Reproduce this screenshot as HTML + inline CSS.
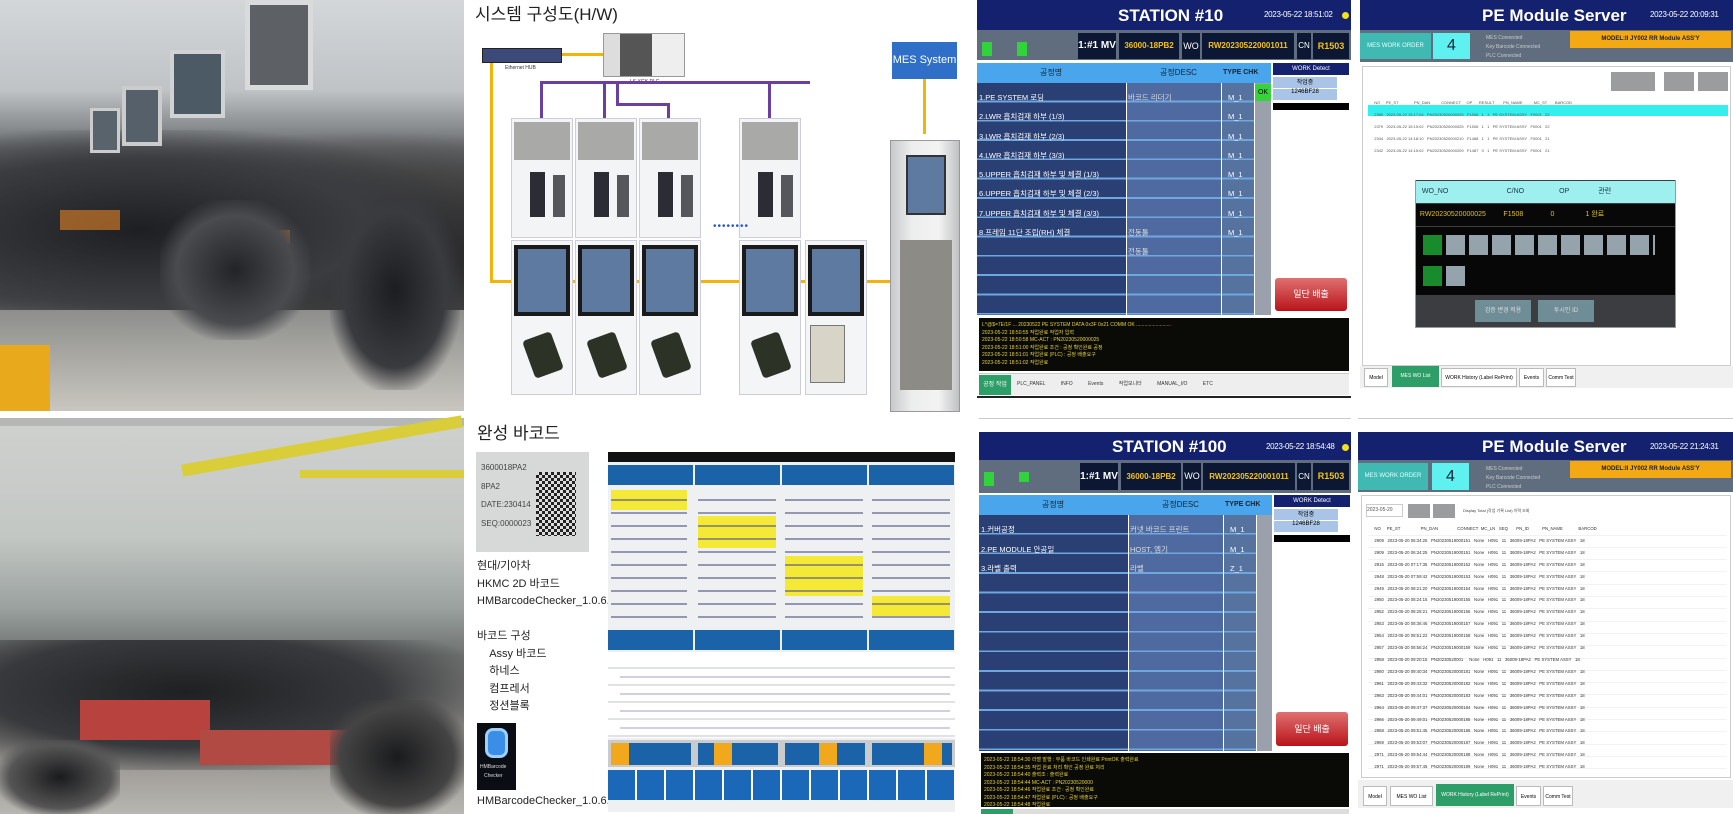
<!DOCTYPE html>
<html><head><meta charset="utf-8"><style>
*{margin:0;padding:0;box-sizing:border-box}
body{width:1733px;height:814px;position:relative;background:#fff;overflow:hidden;font-family:"Liberation Sans","Noto Sans CJK KR",sans-serif}
div{position:absolute}
.t{white-space:nowrap;line-height:1}
.nav{background:#13216e;color:#fff}
.yl{color:#f4c21a}
.ib{background:#0c1733;overflow:hidden;white-space:nowrap;text-align:center;font-weight:bold}
</style></head><body>

<!-- PHOTO 1 -->
<div style="left:0;top:0;width:464px;height:411px;background:linear-gradient(180deg,#d4d7da 0%,#bfc3c6 22%,#6a6d70 36%,#3c3e42 55%,#4a4b4e 72%,#9a9996 85%,#b5b3ae 100%)"></div>
<div style="left:0;top:130px;width:464px;height:200px;background:radial-gradient(ellipse at 30% 50%,#1e1f22 0%,#3a3c40 50%,transparent 75%),radial-gradient(ellipse at 80% 60%,#1a1a1c 0%,#444 45%,transparent 70%)"></div>
<div style="left:245px;top:0;width:68px;height:90px;background:#5d6166;border:5px solid #d8dadc"></div>
<div style="left:170px;top:50px;width:55px;height:68px;background:#4c5a66;border:4px solid #d0d2d4"></div>
<div style="left:122px;top:86px;width:40px;height:60px;background:#55606a;border:4px solid #ccc"></div>
<div style="left:90px;top:108px;width:30px;height:45px;background:#59636c;border:3px solid #ccc"></div>
<div style="left:0;top:310px;width:464px;height:101px;background:linear-gradient(180deg,#8d8e8c,#c9c6bf)"></div>
<div style="left:0;top:345px;width:50px;height:66px;background:#e8a91c"></div>
<div style="left:60px;top:210px;width:60px;height:20px;background:#c8762a;opacity:.7"></div>
<div style="left:250px;top:230px;width:40px;height:14px;background:#c8762a;opacity:.7"></div>
<div style="left:330px;top:190px;width:130px;height:200px;background:radial-gradient(ellipse,#1c1d20 0%,#3a3b3f 55%,transparent 75%)"></div>
<div style="left:160px;top:200px;width:150px;height:140px;background:radial-gradient(ellipse,#232427 0%,#4a4b4e 55%,transparent 75%)"></div>

<!-- PHOTO 2 -->
<div style="left:0;top:418px;width:464px;height:396px;background:linear-gradient(180deg,#cfd1cf 0%,#c3c7c4 30%,#9aa19f 48%,#6d716f 60%,#8d8a86 80%,#b8b6b1 100%)"></div>
<div style="left:0;top:418px;width:464px;height:8px;background:#b4b7b6"></div>
<div style="left:180px;top:440px;width:284px;height:12px;background:#d9cd3a;transform:rotate(-10deg)"></div>
<div style="left:300px;top:470px;width:164px;height:8px;background:#d9cd3a"></div>
<div style="left:0;top:640px;width:464px;height:130px;background:radial-gradient(ellipse at 40% 40%,#1f2022 0%,#38393c 50%,transparent 80%)"></div>
<div style="left:80px;top:700px;width:130px;height:40px;background:#b8433e"></div>
<div style="left:200px;top:730px;width:150px;height:35px;background:#b24a44"></div>
<div style="left:330px;top:700px;width:134px;height:114px;background:radial-gradient(ellipse,#1a1b1d 0%,#444 60%,transparent 80%)"></div>
<div style="left:0;top:740px;width:120px;height:74px;background:radial-gradient(ellipse,#1a1b1d 0%,#555 60%,transparent 80%)"></div>

<!-- DIAGRAM -->
<div class="t" style="left:475px;top:6px;font-size:17px;color:#222">시스템 구성도(H/W)</div>
<div style="left:482px;top:48px;width:80px;height:15px;background:#3b4a78;border:1px solid #222"></div>
<div class="t" style="left:505px;top:66px;font-size:5px;color:#333">Ethernet HUB</div>
<div style="left:603px;top:33px;width:82px;height:44px;background:linear-gradient(90deg,#ddd 0 20%,#555 20% 60%,#eee 60%);border:1px solid #999"></div>
<div class="t" style="left:630px;top:80px;font-size:5px;color:#333">LS XGK PLC</div>
<div style="left:892px;top:42px;width:65px;height:37px;background:#2f6fc8;color:#fff;font-size:11px;text-align:center;line-height:37px">MES System</div>
<div style="left:562px;top:53px;width:41px;height:3px;background:#f2b40a"></div>
<div style="left:490px;top:63px;width:3px;height:220px;background:#f2b40a"></div>
<div style="left:490px;top:280px;width:400px;height:3px;background:#f2b40a"></div>
<div style="left:923px;top:79px;width:3px;height:55px;background:#f2b40a"></div>
<div style="left:540px;top:81px;width:270px;height:3px;background:#6b3fa0"></div>
<div style="left:540px;top:81px;width:3px;height:37px;background:#6b3fa0"></div>
<div style="left:603px;top:81px;width:3px;height:37px;background:#6b3fa0"></div>
<div style="left:616px;top:81px;width:3px;height:24px;background:#6b3fa0"></div>
<div style="left:616px;top:103px;width:53px;height:3px;background:#6b3fa0"></div>
<div style="left:667px;top:103px;width:3px;height:15px;background:#6b3fa0"></div>
<div style="left:768px;top:81px;width:3px;height:37px;background:#6b3fa0"></div>
<div style="left:511px;top:118px;width:62px;height:120px;background:#f2f4f6;border:1px solid #ccd"></div>
<div style="left:575px;top:118px;width:62px;height:120px;background:#f2f4f6;border:1px solid #ccd"></div>
<div style="left:639px;top:118px;width:62px;height:120px;background:#f2f4f6;border:1px solid #ccd"></div>
<div style="left:739px;top:118px;width:62px;height:120px;background:#f2f4f6;border:1px solid #ccd"></div>
<div style="left:514px;top:122px;width:56px;height:38px;background:#a9aaa8"></div>
<div style="left:578px;top:122px;width:56px;height:38px;background:#a9aaa8"></div>
<div style="left:642px;top:122px;width:56px;height:38px;background:#a9aaa8"></div>
<div style="left:742px;top:122px;width:56px;height:38px;background:#a9aaa8"></div>
<div style="left:530px;top:172px;width:15px;height:45px;background:#2b2c34"></div><div style="left:553px;top:175px;width:12px;height:42px;background:#55575c"></div>
<div style="left:594px;top:172px;width:15px;height:45px;background:#2b2c34"></div><div style="left:617px;top:175px;width:12px;height:42px;background:#55575c"></div>
<div style="left:658px;top:172px;width:15px;height:45px;background:#2b2c34"></div><div style="left:681px;top:175px;width:12px;height:42px;background:#55575c"></div>
<div style="left:758px;top:172px;width:15px;height:45px;background:#2b2c34"></div><div style="left:781px;top:175px;width:12px;height:42px;background:#55575c"></div>
<div class="t" style="left:713px;top:222px;font-size:10px;color:#2a5ad0;letter-spacing:1px">••••••••</div>
<div style="left:511px;top:240px;width:62px;height:155px;background:#f4f5f7;border:1px solid #ccd"></div>
<div style="left:575px;top:240px;width:62px;height:155px;background:#f4f5f7;border:1px solid #ccd"></div>
<div style="left:639px;top:240px;width:62px;height:155px;background:#f4f5f7;border:1px solid #ccd"></div>
<div style="left:739px;top:240px;width:62px;height:155px;background:#f4f5f7;border:1px solid #ccd"></div>
<div style="left:805px;top:240px;width:62px;height:155px;background:#f4f5f7;border:1px solid #ccd"></div>
<div style="left:514px;top:245px;width:56px;height:71px;background:#5e7aa0;border:4px solid #1a1a1a"></div>
<div style="left:578px;top:245px;width:56px;height:71px;background:#5e7aa0;border:4px solid #1a1a1a"></div>
<div style="left:642px;top:245px;width:56px;height:71px;background:#5e7aa0;border:4px solid #1a1a1a"></div>
<div style="left:742px;top:245px;width:56px;height:71px;background:#5e7aa0;border:4px solid #1a1a1a"></div>
<div style="left:808px;top:245px;width:56px;height:71px;background:#5e7aa0;border:4px solid #1a1a1a"></div>
<div style="left:528px;top:335px;width:30px;height:40px;background:#2c3226;border-radius:4px;transform:rotate(-20deg)"></div>
<div style="left:592px;top:335px;width:30px;height:40px;background:#2c3226;border-radius:4px;transform:rotate(-20deg)"></div>
<div style="left:656px;top:335px;width:30px;height:40px;background:#2c3226;border-radius:4px;transform:rotate(-20deg)"></div>
<div style="left:756px;top:335px;width:30px;height:40px;background:#2c3226;border-radius:4px;transform:rotate(-20deg)"></div>
<div style="left:810px;top:325px;width:35px;height:58px;background:#d8d4c8;border:1px solid #777"></div>
<div style="left:890px;top:140px;width:70px;height:272px;background:linear-gradient(90deg,#c8c9cb,#eceded 30%,#f3f3f3 70%,#c0c1c3);border:1px solid #999"></div>
<div style="left:906px;top:155px;width:40px;height:60px;background:#5e7aa0;border:2px solid #333"></div>
<div style="left:900px;top:240px;width:52px;height:150px;background:#8d8b86"></div>

<!-- BARCODE SECTION -->
<div class="t" style="left:477px;top:425px;font-size:17px;color:#222">완성 바코드</div>
<div style="left:476px;top:452px;width:113px;height:100px;background:#d7d8d8"></div>
<div class="t" style="left:481px;top:459px;font-size:8px;color:#444;line-height:18.5px;white-space:pre">3600018PA2
8PA2
DATE:230414
SEQ:0000023</div>
<div style="left:536px;top:472px;width:40px;height:64px;background:repeating-conic-gradient(#222 0 25%,#ddd 0 50%) 0 0/6px 6px"></div>
<div class="t" style="left:477px;top:558px;font-size:11px;color:#222;line-height:17.5px;white-space:pre">현대/기아차
HKMC 2D 바코드
HMBarcodeChecker_1.0.6.apk</div>
<div class="t" style="left:477px;top:628px;font-size:11px;color:#222;line-height:17.5px;white-space:pre">바코드 구성
    Assy 바코드
    하네스
    컴프레서
    정션블록</div>
<div style="left:477px;top:723px;width:39px;height:67px;background:#0a0d14"></div>
<div style="left:485px;top:728px;width:23px;height:30px;background:#3a8ee8;border-radius:8px;border:3px solid #9dd0ff"></div>
<div class="t" style="left:480px;top:765px;font-size:5px;color:#ddd">HMBarcode</div>
<div class="t" style="left:484px;top:774px;font-size:5px;color:#ddd">Checker</div>
<div class="t" style="left:477px;top:796px;font-size:11px;color:#222">HMBarcodeChecker_1.0.6.apk</div>

<div style="left:608px;top:452px;width:347px;height:360px;background:#eef0f2"></div>
<div style="left:608px;top:452px;width:347px;height:10px;background:#111"></div>
<div style="left:608px;top:465px;width:85px;height:20px;background:#1b63a8"></div>
<div style="left:695px;top:465px;width:85px;height:20px;background:#1b63a8"></div>
<div style="left:782px;top:465px;width:85px;height:20px;background:#1b63a8"></div>
<div style="left:869px;top:465px;width:85px;height:20px;background:#1b63a8"></div>
<div style="left:611px;top:490px;width:76px;height:20px;background:#f3e936"></div>
<div style="left:698px;top:516px;width:78px;height:32px;background:#f3e936"></div>
<div style="left:785px;top:556px;width:78px;height:40px;background:#f3e936"></div>
<div style="left:872px;top:596px;width:78px;height:20px;background:#f3e936"></div>
<div style="left:611px;top:495px;width:76px;height:128px;background:repeating-linear-gradient(180deg,transparent 0 4px,#5a5a88 4px 6px,transparent 6px 13px);opacity:.6"></div>
<div style="left:698px;top:495px;width:78px;height:128px;background:repeating-linear-gradient(180deg,transparent 0 4px,#5a5a88 4px 6px,transparent 6px 13px);opacity:.6"></div>
<div style="left:785px;top:495px;width:78px;height:128px;background:repeating-linear-gradient(180deg,transparent 0 4px,#5a5a88 4px 6px,transparent 6px 13px);opacity:.6"></div>
<div style="left:872px;top:495px;width:78px;height:128px;background:repeating-linear-gradient(180deg,transparent 0 4px,#5a5a88 4px 6px,transparent 6px 13px);opacity:.6"></div>
<div style="left:608px;top:630px;width:85px;height:20px;background:#1b63a8"></div>
<div style="left:695px;top:630px;width:85px;height:20px;background:#1b63a8"></div>
<div style="left:782px;top:630px;width:85px;height:20px;background:#1b63a8"></div>
<div style="left:869px;top:630px;width:85px;height:20px;background:#1b63a8"></div>
<div style="left:608px;top:652px;width:347px;height:86px;background:repeating-linear-gradient(180deg,#fff 0 15px,#e0e2e5 15px 17px)"></div>
<div style="left:620px;top:670px;width:330px;height:60px;background:repeating-linear-gradient(180deg,transparent 0 6px,#7a7aa8 6px 8px,transparent 8px 17px);opacity:.35"></div>
<div style="left:608px;top:740px;width:347px;height:27px;background:#c9cbcd"></div>
<div style="left:611px;top:743px;width:80px;height:22px;background:#1b63a8"></div>
<div style="left:698px;top:743px;width:80px;height:22px;background:#1b63a8"></div>
<div style="left:785px;top:743px;width:80px;height:22px;background:#1b63a8"></div>
<div style="left:872px;top:743px;width:80px;height:22px;background:#1b63a8"></div>
<div style="left:611px;top:743px;width:18px;height:22px;background:#f2a81c"></div>
<div style="left:714px;top:743px;width:18px;height:22px;background:#f2a81c"></div>
<div style="left:819px;top:743px;width:18px;height:22px;background:#f2a81c"></div>
<div style="left:924px;top:743px;width:18px;height:22px;background:#f2a81c"></div>
<div style="left:608px;top:770px;width:347px;height:30px;background:repeating-linear-gradient(90deg,#1b68b8 0 27px,#fff 27px 29px)"></div>

<!-- STATION #10 -->
<div style="left:977px;top:0;width:374px;height:398px;background:#fff"></div>
<div class="nav" style="left:977px;top:0;width:374px;height:30px"></div>
<div class="t" style="left:1118px;top:7px;font-size:17px;font-weight:bold;color:#fff">STATION #10</div>
<div class="t" style="left:1264px;top:11px;font-size:8px;color:#fff;letter-spacing:-.3px">2023-05-22 18:51:02</div>
<div style="left:1342px;top:12px;width:7px;height:7px;border-radius:50%;background:#f5e11a"></div>
<div style="left:977px;top:30px;width:374px;height:30px;background:#5f6d7e"></div>
<div style="left:982px;top:42px;width:10px;height:14px;background:#30d33a"></div><div style="left:1017px;top:42px;width:10px;height:14px;background:#30d33a"></div>
<div class="ib" style="left:1078px;top:33px;width:38px;height:26px;color:#fff;font-size:10px;line-height:26px">1:#1 MV</div>
<div class="ib yl" style="left:1119px;top:33px;width:60px;height:26px;font-size:8px;line-height:26px">36000-18PB2</div>
<div class="ib" style="left:1182px;top:33px;width:18px;height:26px;color:#fff;font-size:9px;line-height:26px;font-weight:normal">WO</div>
<div class="ib yl" style="left:1202px;top:33px;width:92px;height:26px;font-size:8px;line-height:26px">RW202305220001011</div>
<div class="ib" style="left:1297px;top:33px;width:14px;height:26px;color:#fff;font-size:8px;line-height:26px;font-weight:normal">CN</div>
<div class="ib yl" style="left:1313px;top:33px;width:36px;height:26px;font-size:9px;line-height:26px">R1503</div>
<div style="left:977px;top:63px;width:294px;height:20px;background:#4aa6ec"></div>
<div class="t" style="left:1040px;top:69px;font-size:8px;color:#123">공정명</div>
<div class="t" style="left:1160px;top:69px;font-size:8px;color:#123">공정DESC</div>
<div class="t" style="left:1223px;top:69px;font-size:7px;font-weight:bold;color:#123">TYPE CHK</div>
<div style="left:977px;top:83px;width:149px;height:232px;background:repeating-linear-gradient(180deg,#2a3f73 0 17.5px,#6fa8e0 17.5px 19.3px)"></div>
<div style="left:1127px;top:83px;width:94px;height:232px;background:repeating-linear-gradient(180deg,#4f6aa0 0 17.5px,#6fa8e0 17.5px 19.3px)"></div>
<div style="left:1222px;top:83px;width:32px;height:232px;background:repeating-linear-gradient(180deg,#56729f 0 17.5px,#6fa8e0 17.5px 19.3px)"></div>
<div style="left:1255px;top:83px;width:16px;height:232px;background:#9aa1ad"></div>
<div style="left:1255px;top:84px;width:16px;height:17px;background:#36d43a;font-size:7px;color:#000;text-align:center;line-height:17px">OK</div>
<div class="t" style="left:979px;top:88px;font-size:7.5px;color:#fff;line-height:19.3px;white-space:pre">1.PE SYSTEM 로딩
2.LWR 흡치검재 하부 (1/3)
3.LWR 흡치검재 하부 (2/3)
4.LWR 흡치검재 하부 (3/3)
5.UPPER 흡치검재 하부 및 체결 (1/3)
6.UPPER 흡치검재 하부 및 체결 (2/3)
7.UPPER 흡치검재 하부 및 체결 (3/3)
8.프레임 11단 조립(RH) 체결</div>
<div class="t" style="left:1128px;top:88px;font-size:7.5px;color:#ddd;line-height:19.3px;white-space:pre">바코드 리더기






전동툴
전동툴</div>
<div class="t" style="left:1228px;top:88px;font-size:7.5px;color:#fff;line-height:19.3px;white-space:pre">M_1
M_1
M_1
M_1
M_1
M_1
M_1
M_1</div>
<div style="left:1273px;top:63px;width:76px;height:12px;background:#13216e;color:#fff;font-size:6px;text-align:center;line-height:12px">WORK Detect</div>
<div style="left:1273px;top:77px;width:64px;height:11px;background:#a9c4e6;font-size:6px;text-align:center">작업중</div>
<div style="left:1273px;top:89px;width:64px;height:11px;background:#a9c4e6;font-size:6px;text-align:center">1246BF28</div>
<div style="left:1273px;top:103px;width:76px;height:7px;background:#000"></div>
<div style="left:1275px;top:278px;width:72px;height:33px;background:linear-gradient(180deg,#e07070,#b8141a);color:#fff;font-size:9px;text-align:center;line-height:33px;border-radius:3px">일단 배출</div>
<div style="left:979px;top:318px;width:370px;height:53px;background:#0a0a06"></div>
<div class="t" style="left:982px;top:322px;font-size:5px;color:#e7d23a;line-height:7.5px;white-space:pre">L^@$=7E/1F ... 20230522 PE SYSTEM DATA 0x3F 0x21 COMM OK .........................
2023-05-22 18:50:55 작업완료 작업자 입력
2023-05-22 18:50:58 MC-ACT : PN20230520000025
2023-05-22 18:51:00 작업완료 조건 : 공정 확인완료 공정
2023-05-22 18:51:01 작업완료 (PLC) : 공정 배출요구
2023-05-22 18:51:02 작업완료</div>
<div style="left:979px;top:373px;width:370px;height:22px;background:#eee;border-top:1px solid #ccc"></div>
<div style="left:979px;top:375px;width:32px;height:20px;background:#2e9e68;color:#fff;font-size:6px;text-align:center;line-height:20px">공정 작업</div>
<div class="t" style="left:1017px;top:382px;font-size:5px;color:#333;word-spacing:14px">PLC_PANEL INFO Events 작업모니터 MANUAL_I/O ETC</div>
<div style="left:977px;top:396px;width:374px;height:2px;background:#222"></div>

<!-- PE MODULE SERVER 1 -->
<div class="nav" style="left:1360px;top:0;width:373px;height:30px"></div>
<div class="t" style="left:1482px;top:7px;font-size:17px;font-weight:bold;color:#fff">PE Module Server</div>
<div class="t" style="left:1650px;top:11px;font-size:8px;color:#fff;letter-spacing:-.3px">2023-05-22 20:09:31</div>
<div style="left:1360px;top:30px;width:373px;height:32px;background:#5f6d7e"></div>
<div style="left:1360px;top:33px;width:71px;height:26px;background:#3fb9b2;color:#e6ffff;font-size:6px;text-align:center;line-height:26px">MES WORK ORDER</div>
<div style="left:1433px;top:33px;width:37px;height:26px;background:#5ff0f0;color:#123;font-size:16px;text-align:center;line-height:26px">4</div>
<div class="t" style="left:1486px;top:34px;font-size:5px;color:#ccc;line-height:9px;white-space:pre">MES Connected
Key Barcode Connected
PLC Connected</div>
<div style="left:1570px;top:31px;width:161px;height:17px;background:#f2a914;font-size:6px;font-weight:bold;color:#222;text-align:center;line-height:17px">MODEL:II JY002 RR Module ASS'Y</div>
<div style="left:1362px;top:66px;width:369px;height:300px;background:#fff;border:1px solid #ccc"></div>
<div style="left:1611px;top:72px;width:44px;height:19px;background:#9b9c9d"></div>
<div style="left:1664px;top:72px;width:30px;height:19px;background:#9b9c9d"></div>
<div style="left:1698px;top:72px;width:30px;height:19px;background:#9b9c9d"></div>
<div style="left:1368px;top:105px;width:360px;height:11px;background:#33f0ef"></div>
<div class="t" style="left:1372px;top:97px;font-size:4px;color:#555;line-height:12px;white-space:pre">  NO     PE_ST              PN_DAN          CONNECT     OP      RESULT        PN_NAME          MC_ST       BARCOD
  2380   2023-05-22 15:17:04   PN20230520000025   F1506   1   1   PE SYSTEM ASSY   F0001   22
  2379   2023-05-22 15:15:02   PN20230520000025   F1506   1   1   PE SYSTEM ASSY   F0001   22
  2344   2023-05-22 14:18:10   PN20230520000210   F1488   1   1   PE SYSTEM ASSY   F0001   21
  2342   2023-05-22 14:15:02   PN20230520000209   F1487   0   1   PE SYSTEM ASSY   F0001   21</div>
<div style="left:1415px;top:170px;width:261px;height:158px;background:#3b3d40;border:1px solid #999"></div>
<div style="left:1415px;top:170px;width:261px;height:10px;background:#fff"></div>
<div style="left:1416px;top:181px;width:259px;height:22px;background:#9ef0ee;font-size:7px;color:#234;line-height:22px;white-space:pre">   WO_NO                              C/NO                  OP               관련</div>
<div style="left:1416px;top:204px;width:259px;height:22px;background:#080808;color:#e0c020;font-size:7px;line-height:22px;white-space:pre">  RW20230520000025         F1508              0                1 완료</div>
<div style="left:1416px;top:227px;width:259px;height:68px;background:#070707"></div>
<div style="left:1423px;top:235px;width:232px;height:20px;background:repeating-linear-gradient(90deg,#95a3ad 0 19px,transparent 19px 23px)"></div>
<div style="left:1423px;top:235px;width:19px;height:20px;background:#188c2c"></div>
<div style="left:1423px;top:266px;width:19px;height:20px;background:#188c2c"></div>
<div style="left:1446px;top:266px;width:19px;height:20px;background:#95a3ad"></div>
<div style="left:1475px;top:300px;width:56px;height:22px;background:#6f8d96;color:#ddd;font-size:6px;text-align:center;line-height:22px">검증 변경 적용</div>
<div style="left:1538px;top:300px;width:56px;height:22px;background:#6f8d96;color:#ddd;font-size:6px;text-align:center;line-height:22px">투시인 ID</div>
<div style="left:1360px;top:366px;width:373px;height:22px;background:#f0f0f0"></div>
<div style="left:1364px;top:368px;width:24px;height:19px;background:#fff;border:1px solid #bbb;font-size:5px;text-align:center;line-height:19px">Model</div>
<div style="left:1392px;top:366px;width:47px;height:21px;background:#2e9e68;color:#fff;font-size:5px;text-align:center;line-height:21px">MES WO List</div>
<div style="left:1441px;top:368px;width:76px;height:19px;background:#fff;border:1px solid #bbb;font-size:5px;text-align:center;line-height:19px">WORK History (Label RePrint)</div>
<div style="left:1519px;top:368px;width:25px;height:19px;background:#fff;border:1px solid #bbb;font-size:5px;text-align:center;line-height:19px">Events</div>
<div style="left:1546px;top:368px;width:30px;height:19px;background:#fff;border:1px solid #bbb;font-size:5px;text-align:center;line-height:19px">Comm Test</div>

<!-- STATION #100 -->
<div style="left:979px;top:418px;width:372px;height:14px;background:#fff;border-top:1px solid #ccc"></div>
<div class="nav" style="left:979px;top:432px;width:372px;height:28px"></div>
<div class="t" style="left:1112px;top:438px;font-size:17px;font-weight:bold;color:#fff">STATION #100</div>
<div class="t" style="left:1266px;top:443px;font-size:8px;color:#fff;letter-spacing:-.3px">2023-05-22 18:54:48</div>
<div style="left:1342px;top:444px;width:7px;height:7px;border-radius:50%;background:#f5e11a"></div>
<div style="left:979px;top:460px;width:372px;height:33px;background:#5f6d7e"></div>
<div style="left:984px;top:472px;width:10px;height:14px;background:#30d33a"></div><div style="left:1019px;top:472px;width:10px;height:10px;background:#30d33a"></div>
<div class="ib" style="left:1080px;top:463px;width:38px;height:27px;color:#fff;font-size:10px;line-height:27px">1:#1 MV</div>
<div class="ib yl" style="left:1121px;top:463px;width:60px;height:27px;font-size:8px;line-height:27px">36000-18PB2</div>
<div class="ib" style="left:1183px;top:463px;width:18px;height:27px;color:#fff;font-size:9px;line-height:27px;font-weight:normal">WO</div>
<div class="ib yl" style="left:1203px;top:463px;width:92px;height:27px;font-size:8px;line-height:27px">RW202305220001011</div>
<div class="ib" style="left:1297px;top:463px;width:14px;height:27px;color:#fff;font-size:8px;line-height:27px;font-weight:normal">CN</div>
<div class="ib yl" style="left:1313px;top:463px;width:36px;height:27px;font-size:9px;line-height:27px">R1503</div>
<div style="left:979px;top:495px;width:293px;height:20px;background:#4aa6ec"></div>
<div class="t" style="left:1042px;top:501px;font-size:8px;color:#123">공정명</div>
<div class="t" style="left:1162px;top:501px;font-size:8px;color:#123">공정DESC</div>
<div class="t" style="left:1225px;top:501px;font-size:7px;font-weight:bold;color:#123">TYPE CHK</div>
<div style="left:979px;top:515px;width:149px;height:236px;background:repeating-linear-gradient(180deg,#2a3f73 0 17.8px,#6fa8e0 17.8px 19.6px)"></div>
<div style="left:1129px;top:515px;width:94px;height:236px;background:repeating-linear-gradient(180deg,#4f6aa0 0 17.8px,#6fa8e0 17.8px 19.6px)"></div>
<div style="left:1224px;top:515px;width:32px;height:236px;background:repeating-linear-gradient(180deg,#56729f 0 17.8px,#6fa8e0 17.8px 19.6px)"></div>
<div style="left:1257px;top:515px;width:15px;height:236px;background:#9aa1ad"></div>
<div class="t" style="left:981px;top:520px;font-size:7.5px;color:#fff;line-height:19.6px;white-space:pre">1.커버공정
2.PE MODULE 안공일
3.라벨 출력</div>
<div class="t" style="left:1130px;top:520px;font-size:7.5px;color:#ddd;line-height:19.6px;white-space:pre">커넷 바코드 프린트
HOST, 엠기
라벨</div>
<div class="t" style="left:1230px;top:520px;font-size:7.5px;color:#fff;line-height:19.6px;white-space:pre">M_1
M_1
Z_1</div>
<div style="left:1274px;top:495px;width:76px;height:12px;background:#13216e;color:#fff;font-size:6px;text-align:center;line-height:12px">WORK Detect</div>
<div style="left:1274px;top:509px;width:64px;height:11px;background:#a9c4e6;font-size:6px;text-align:center">작업중</div>
<div style="left:1274px;top:521px;width:64px;height:11px;background:#a9c4e6;font-size:6px;text-align:center">1246BF28</div>
<div style="left:1274px;top:535px;width:76px;height:7px;background:#000"></div>
<div style="left:1276px;top:712px;width:72px;height:34px;background:linear-gradient(180deg,#e07070,#b8141a);color:#fff;font-size:9px;text-align:center;line-height:34px;border-radius:3px">일단 배출</div>
<div style="left:981px;top:753px;width:368px;height:54px;background:#0a0a06"></div>
<div class="t" style="left:984px;top:757px;font-size:5px;color:#e7d23a;line-height:7.5px;white-space:pre">2023-05-22 18:54:30 라벨 발행 : 부품 바코드 인쇄완료 PrintOK 출력완료
2023-05-22 18:54:35 작업 완료 처리 확인 공정 완료 처리
2023-05-22 18:54:40 출력조 : 출력완료
2023-05-22 18:54:44 MC-ACT : PN20230520000
2023-05-22 18:54:46 작업완료 조건 : 공정 확인완료
2023-05-22 18:54:47 작업완료 (PLC) : 공정 배출요구
2023-05-22 18:54:48 작업완료</div>
<div style="left:981px;top:809px;width:368px;height:5px;background:#ddd"></div>
<div style="left:981px;top:809px;width:32px;height:5px;background:#2e9e68"></div>

<!-- PE MODULE SERVER 2 -->
<div style="left:1358px;top:418px;width:375px;height:14px;background:#fff;border-top:1px solid #ccc"></div>
<div class="nav" style="left:1358px;top:432px;width:375px;height:28px"></div>
<div class="t" style="left:1482px;top:438px;font-size:17px;font-weight:bold;color:#fff">PE Module Server</div>
<div class="t" style="left:1650px;top:443px;font-size:8px;color:#fff;letter-spacing:-.3px">2023-05-22 21:24:31</div>
<div style="left:1358px;top:460px;width:375px;height:32px;background:#5f6d7e"></div>
<div style="left:1358px;top:463px;width:70px;height:27px;background:#3fb9b2;color:#e6ffff;font-size:6px;text-align:center;line-height:27px">MES WORK ORDER</div>
<div style="left:1432px;top:463px;width:37px;height:27px;background:#5ff0f0;color:#123;font-size:16px;text-align:center;line-height:27px">4</div>
<div class="t" style="left:1486px;top:465px;font-size:5px;color:#ccc;line-height:9px;white-space:pre">MES Connected
Key Barcode Connected
PLC Connected</div>
<div style="left:1570px;top:461px;width:161px;height:17px;background:#f2a914;font-size:6px;font-weight:bold;color:#222;text-align:center;line-height:17px">MODEL:II JY002 RR Module ASS'Y</div>
<div style="left:1361px;top:495px;width:370px;height:283px;background:#fff;border:1px solid #ccc"></div>
<div style="left:1366px;top:504px;width:37px;height:13px;border:1px solid #ccc;font-size:5px;color:#555;line-height:11px">2023-05-20</div>
<div style="left:1408px;top:504px;width:22px;height:14px;background:#9b9c9d"></div>
<div style="left:1433px;top:504px;width:22px;height:14px;background:#9b9c9d"></div>
<div class="t" style="left:1463px;top:509px;font-size:4px;color:#444">Display Total (작업 기록 List) 이력 조회</div>
<div style="left:1368px;top:523px;width:358px;height:252px;background:repeating-linear-gradient(180deg,#fff 0 11.8px,#e6e6e6 11.8px 12.3px)"></div>
<div class="t" style="left:1372px;top:523px;font-size:4.3px;color:#333;line-height:11.9px;white-space:pre">  NO     PE_ST                 PN_DAN                CONNECT  MC_LN   SEQ       PN_ID           PN_NAME             BARCOD
  2909   2023-05-20 06:34:25   PN20230519000151   None   H091   11   36009-18PA2   PE SYSTEM ASSY   18
  2909   2023-05-20 06:34:25   PN20230519000151   None   H091   11   36009-18PA2   PE SYSTEM ASSY   18
  2915   2023-05-20 07:17:35   PN20230519000152   None   H091   11   36009-18PA2   PE SYSTEM ASSY   18
  2948   2023-05-20 07:59:42   PN20230519000153   None   H091   11   36009-18PA2   PE SYSTEM ASSY   18
  2949   2023-05-20 08:21:20   PN20230519000154   None   H091   11   36009-18PA2   PE SYSTEM ASSY   18
  2950   2023-05-20 08:24:15   PN20230519000155   None   H091   11   36009-18PA2   PE SYSTEM ASSY   18
  2952   2023-05-20 08:28:21   PN20230519000156   None   H091   11   36009-18PA2   PE SYSTEM ASSY   18
  2953   2023-05-20 08:36:46   PN20230519000157   None   H091   11   36009-18PA2   PE SYSTEM ASSY   18
  2954   2023-05-20 08:51:22   PN20230519000158   None   H091   11   36009-18PA2   PE SYSTEM ASSY   18
  2957   2023-05-20 08:56:24   PN20230519000159   None   H091   11   36009-18PA2   PE SYSTEM ASSY   18
  2958   2023-05-20 09:20:15   PN20230520001     None   H091   11   36009-18PA2   PE SYSTEM ASSY   18
  2960   2023-05-20 09:40:34   PN20230520000181   None   H091   11   36009-18PA2   PE SYSTEM ASSY   18
  2961   2023-05-20 09:43:32   PN20230520000182   None   H091   11   36009-18PA2   PE SYSTEM ASSY   18
  2963   2023-05-20 09:44:01   PN20230520000183   None   H091   11   36009-18PA2   PE SYSTEM ASSY   18
  2964   2023-05-20 09:47:37   PN20230520000184   None   H091   11   36009-18PA2   PE SYSTEM ASSY   18
  2966   2023-05-20 09:49:01   PN20230520000185   None   H091   11   36009-18PA2   PE SYSTEM ASSY   18
  2968   2023-05-20 09:51:45   PN20230520000186   None   H091   11   36009-18PA2   PE SYSTEM ASSY   18
  2969   2023-05-20 09:53:07   PN20230520000187   None   H091   11   36009-18PA2   PE SYSTEM ASSY   18
  2971   2023-05-20 09:54:44   PN20230520000188   None   H091   11   36009-18PA2   PE SYSTEM ASSY   18
  2971   2023-05-20 09:57:45   PN20230520000189   None   H091   11   36009-18PA2   PE SYSTEM ASSY   18</div>
<div style="left:1358px;top:780px;width:375px;height:28px;background:#f0f0f0"></div>
<div style="left:1363px;top:786px;width:24px;height:20px;background:#fff;border:1px solid #bbb;font-size:5px;text-align:center;line-height:20px">Model</div>
<div style="left:1390px;top:786px;width:43px;height:20px;background:#fff;border:1px solid #bbb;font-size:5px;text-align:center;line-height:20px">MES WO List</div>
<div style="left:1436px;top:784px;width:78px;height:22px;background:#2e9e68;color:#fff;font-size:5px;text-align:center;line-height:22px">WORK History (Label RePrint)</div>
<div style="left:1516px;top:786px;width:25px;height:20px;background:#fff;border:1px solid #bbb;font-size:5px;text-align:center;line-height:20px">Events</div>
<div style="left:1543px;top:786px;width:30px;height:20px;background:#fff;border:1px solid #bbb;font-size:5px;text-align:center;line-height:20px">Comm Test</div>
</body></html>
